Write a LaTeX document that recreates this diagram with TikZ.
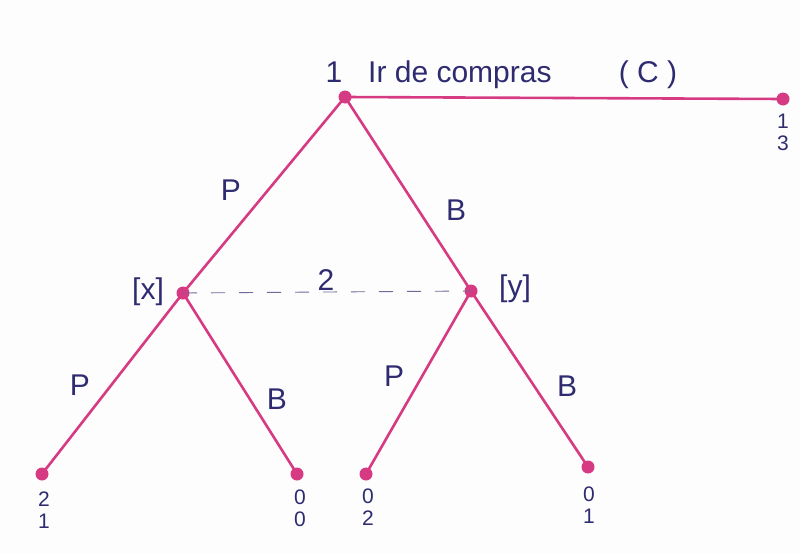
\documentclass[tikz,border=0pt]{standalone}
\usepackage{fontspec}
\setmainfont{Liberation Sans}
\definecolor{pinkline}{HTML}{D63A83}
\definecolor{ink}{HTML}{2F2B70}
\definecolor{paper}{HTML}{FDFDFD}
\begin{document}
\begin{tikzpicture}[x=1pt,y=-1pt,
  edge/.style={draw=pinkline,line width=2.6pt},
  dotnode/.style={circle,fill=pinkline,inner sep=0pt,minimum size=13pt},
  lbl/.style={text=ink,font=\fontsize{30}{32}\selectfont,inner sep=0pt},
  pay/.style={text=ink,font=\fontsize{21}{22}\selectfont,inner sep=0pt,align=center},
  info/.style={draw=ink!70,line width=0.9pt,dash pattern=on 14pt off 14pt}]
\fill[paper] (0,0) rectangle (800,554);
\useasboundingbox (0,0) rectangle (800,554);
% decision nodes
\node[dotnode] (r) at (345,97) {};
\node[dotnode] (c) at (783,99) {};
\node[dotnode] (x) at (183,293) {};
\node[dotnode] (y) at (471,291) {};
\node[dotnode] (a) at (42,474) {};
\node[dotnode] (b) at (297,474) {};
\node[dotnode] (cc) at (366,474) {};
\node[dotnode] (d) at (588,467) {};
% edges
\draw[edge] (r.center) -- (c.center);
\draw[edge] (r.center) -- (x.center);
\draw[edge] (r.center) -- (y.center);
\draw[edge] (x.center) -- (a.center);
\draw[edge] (x.center) -- (b.center);
\draw[edge] (y.center) -- (cc.center);
\draw[edge] (y.center) -- (d.center);
\draw[info] (x.center) -- (y.center);
% labels
\node[lbl] (n1) at (334,72) {1};
\node[lbl,anchor=west] (ir) at (368,75) {Ir de compras};
\node[lbl] (cl) at (648,75) {( C )};
\node[pay] (pc) at (783,132) {1\\3};
\node[lbl] (p1) at (231,190) {P};
\node[lbl] (b1) at (456,210) {B};
\node[lbl] (lx) at (148,292) {[x]};
\node[lbl] (ly) at (515,289) {[y]};
\node[lbl] (two) at (326,280) {2};
\node[lbl] (p2) at (80,385) {P};
\node[lbl] (b2) at (277,399) {B};
\node[lbl] (p3) at (394,376) {P};
\node[lbl] (b3) at (567,386) {B};
\node[pay] (pa) at (44,510) {2\\1};
\node[pay] (pb) at (300,508) {0\\0};
\node[pay] (pcc) at (368,507) {0\\2};
\node[pay] (pd) at (589,505) {0\\1};
\end{tikzpicture}
\end{document}
